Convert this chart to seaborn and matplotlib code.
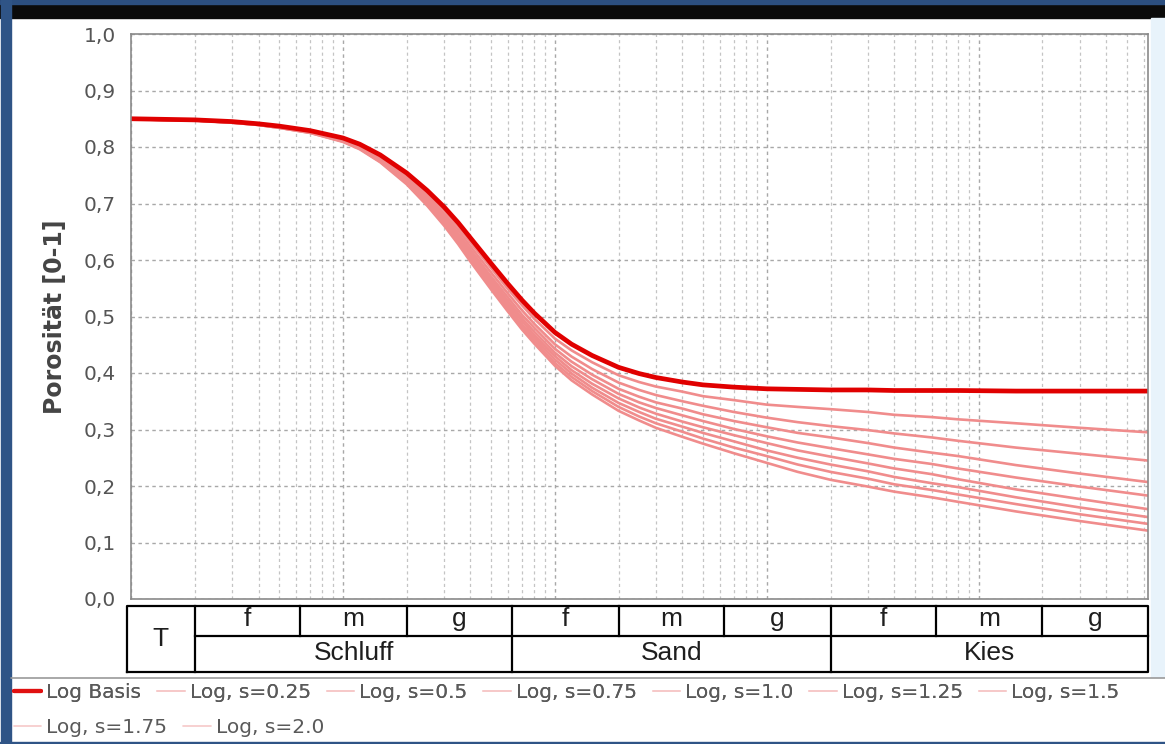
import numpy as np
import pandas as pd
import matplotlib
matplotlib.use("Agg")
import matplotlib.pyplot as plt
from matplotlib.patches import Rectangle
from matplotlib.lines import Line2D
from matplotlib.ticker import LogLocator, NullFormatter
import seaborn as sns

# grain diameter [mm]
diameter = [0.001, 0.002, 0.003, 0.004, 0.005, 0.007, 0.01, 0.012, 0.015, 0.02, 0.025, 0.03,
            0.035, 0.04, 0.05, 0.06, 0.07, 0.08, 0.1, 0.12, 0.15, 0.2, 0.25, 0.3, 0.4, 0.5,
            0.7, 1, 1.4, 2, 3, 4, 6, 8, 15, 30, 63]

# porosity curves
log_basis = [0.850, 0.848, 0.845, 0.841, 0.837, 0.829, 0.816, 0.805, 0.786, 0.754, 0.723, 0.694,
             0.666, 0.639, 0.594, 0.558, 0.529, 0.506, 0.472, 0.451, 0.431, 0.410, 0.399, 0.392,
             0.384, 0.379, 0.375, 0.372, 0.371, 0.370, 0.370, 0.369, 0.369, 0.369, 0.368, 0.368,
             0.368]
log_s025 = [0.850, 0.848, 0.845, 0.841, 0.836, 0.828, 0.815, 0.803, 0.784, 0.750, 0.718, 0.688,
            0.659, 0.631, 0.586, 0.549, 0.520, 0.496, 0.461, 0.440, 0.419, 0.396, 0.384, 0.376,
            0.367, 0.359, 0.352, 0.344, 0.340, 0.336, 0.331, 0.326, 0.322, 0.318, 0.311, 0.303,
            0.295]
log_s050 = [0.850, 0.848, 0.844, 0.840, 0.836, 0.828, 0.814, 0.802, 0.781, 0.747, 0.714, 0.682,
            0.653, 0.624, 0.578, 0.541, 0.511, 0.487, 0.451, 0.429, 0.407, 0.383, 0.370, 0.361,
            0.350, 0.342, 0.331, 0.321, 0.313, 0.306, 0.299, 0.293, 0.286, 0.280, 0.268, 0.257,
            0.245]
log_s075 = [0.850, 0.848, 0.844, 0.840, 0.835, 0.827, 0.813, 0.801, 0.780, 0.744, 0.710, 0.678,
            0.647, 0.618, 0.571, 0.534, 0.503, 0.480, 0.443, 0.420, 0.397, 0.372, 0.358, 0.348,
            0.337, 0.327, 0.315, 0.304, 0.294, 0.286, 0.276, 0.268, 0.259, 0.253, 0.237, 0.222,
            0.207]
log_s100 = [0.849, 0.847, 0.844, 0.840, 0.835, 0.827, 0.812, 0.799, 0.778, 0.742, 0.707, 0.674,
            0.643, 0.613, 0.566, 0.528, 0.497, 0.473, 0.436, 0.412, 0.389, 0.363, 0.348, 0.338,
            0.325, 0.315, 0.301, 0.288, 0.277, 0.267, 0.256, 0.248, 0.239, 0.231, 0.215, 0.199,
            0.183]
log_s125 = [0.849, 0.847, 0.844, 0.840, 0.835, 0.826, 0.811, 0.799, 0.777, 0.740, 0.704, 0.670,
            0.639, 0.609, 0.561, 0.523, 0.492, 0.467, 0.430, 0.405, 0.381, 0.355, 0.339, 0.328,
            0.314, 0.304, 0.290, 0.276, 0.263, 0.252, 0.240, 0.231, 0.221, 0.212, 0.194, 0.177,
            0.159]
log_s150 = [0.849, 0.847, 0.843, 0.839, 0.834, 0.826, 0.810, 0.798, 0.775, 0.738, 0.701, 0.667,
            0.635, 0.605, 0.556, 0.518, 0.486, 0.462, 0.424, 0.399, 0.374, 0.347, 0.331, 0.319,
            0.305, 0.294, 0.279, 0.263, 0.250, 0.238, 0.226, 0.216, 0.205, 0.198, 0.180, 0.162,
            0.145]
log_s175 = [0.849, 0.847, 0.843, 0.839, 0.834, 0.825, 0.810, 0.797, 0.774, 0.736, 0.698, 0.664,
            0.631, 0.601, 0.552, 0.513, 0.482, 0.457, 0.418, 0.393, 0.368, 0.340, 0.323, 0.311,
            0.296, 0.284, 0.268, 0.253, 0.238, 0.225, 0.213, 0.203, 0.193, 0.185, 0.168, 0.150,
            0.133]
log_s200 = [0.849, 0.847, 0.843, 0.839, 0.834, 0.825, 0.809, 0.796, 0.773, 0.734, 0.696, 0.661,
            0.628, 0.597, 0.548, 0.509, 0.477, 0.452, 0.413, 0.387, 0.362, 0.333, 0.316, 0.303,
            0.287, 0.275, 0.258, 0.241, 0.225, 0.211, 0.199, 0.190, 0.180, 0.172, 0.155, 0.138,
            0.121]

series_names = ["Log Basis", "Log, s=0.25", "Log, s=0.5", "Log, s=0.75", "Log, s=1.0",
                "Log, s=1.25", "Log, s=1.5", "Log, s=1.75", "Log, s=2.0"]
series_values = [log_basis, log_s025, log_s050, log_s075, log_s100,
                 log_s125, log_s150, log_s175, log_s200]

# y axis
yticks = [0.0, 0.1, 0.2, 0.3, 0.4, 0.5, 0.6, 0.7, 0.8, 0.9, 1.0]
yticklabels = ["0,0", "0,1", "0,2", "0,3", "0,4", "0,5", "0,6", "0,7", "0,8", "0,9", "1,0"]

# grain-size classification table (DIN 4022)
clay_label = "T"
class_bounds = [0.002, 0.063, 2, 63]
class_labels = ["Schluff", "Sand", "Kies"]
sub_bounds = [0.002, 0.0063, 0.02, 0.063, 0.2, 0.63, 2, 6.3, 20, 63]
sub_labels = ["f", "m", "g", "f", "m", "g", "f", "m", "g"]

df = pd.DataFrame({
    "d": np.tile(diameter, len(series_names)),
    "n": np.concatenate(series_values),
    "series": np.repeat(series_names, len(diameter)),
})

sns.set_style("white")
plt.rcParams["font.family"] = ["DejaVu Sans"]

W, H = 1165, 744
fig = plt.figure(figsize=(W / 100, H / 100), dpi=100)
fig.patch.set_facecolor("white")

def fx(px):
    return px / W

def fy(py):
    return 1 - py / H

# window frame
fig.patches.append(Rectangle((0, fy(18)), 1, 18 / H, transform=fig.transFigure,
                             color="#0b0b0b", zorder=0))
fig.patches.append(Rectangle((0, fy(4)), 1, 4 / H, transform=fig.transFigure,
                             color="#2c4f80", zorder=0))
fig.patches.append(Rectangle((fx(1), 0), 10 / W, 1, transform=fig.transFigure,
                             color="#2f5486", zorder=0))
fig.patches.append(Rectangle((fx(1151), fy(677)), 14 / W, (677 - 18) / H,
                             transform=fig.transFigure, color="#e8f3fb", zorder=0))
fig.add_artist(Line2D([fx(11), 1], [fy(677.5), fy(677.5)], transform=fig.transFigure,
                      color="#9a9a9a", lw=1.2))
fig.patches.append(Rectangle((0, 0), 1, 2 / H, transform=fig.transFigure,
                             color="#2f5486", zorder=0))

# main axes
left_px, right_px, top_px, bot_px = 131, 1148, 34, 599
ax = fig.add_axes([fx(left_px), fy(bot_px), fx(right_px - left_px), (bot_px - top_px) / H])
ax.set_xscale("log")

pale = "#f08c8c"
for name in series_names[1:]:
    sub = df[df["series"] == name]
    sns.lineplot(data=sub, x="d", y="n", ax=ax, color=pale, lw=1.9,
                 estimator=None, sort=True, legend=False)
sub = df[df["series"] == series_names[0]]
sns.lineplot(data=sub, x="d", y="n", ax=ax, color="#e00000", lw=3.4,
             estimator=None, sort=True, legend=False)

xmin, xmax = diameter[0], diameter[-1]
ax.set_xlim(xmin, xmax)
ax.set_ylim(0, 1)
ax.set_yticks(yticks)
ax.set_yticklabels(yticklabels)
ax.xaxis.set_major_locator(LogLocator(base=10, numticks=20))
ax.xaxis.set_minor_locator(LogLocator(base=10, subs=np.arange(2, 10), numticks=50))
ax.xaxis.set_major_formatter(NullFormatter())
ax.xaxis.set_minor_formatter(NullFormatter())
ax.tick_params(axis="x", which="both", length=0)
ax.tick_params(axis="y", which="major", length=5, color="#888888", width=1,
               labelsize=14.5, labelcolor="#555555", pad=6)
ax.grid(which="major", axis="both", ls=(0, (2.5, 2.5)), color="#a8a8a8", lw=1.0)
ax.grid(which="minor", axis="x", ls=(0, (2.5, 2.5)), color="#c4c4c4", lw=0.9)
ax.set_xlabel("")
ax.set_ylabel("Porosität [0-1]", fontsize=17, fontweight="bold", color="#444444", labelpad=12)
for sp in ax.spines.values():
    sp.set_color("#8a8a8a")
    sp.set_linewidth(1.2)

# classification table below the plot
tab_left_px, tab_top_px, tab_bot_px = 127, 606, 672
tax = fig.add_axes([fx(tab_left_px), fy(tab_bot_px), fx(right_px - tab_left_px),
                    (tab_bot_px - tab_top_px) / H])
tax.set_xscale("log")
px_per_dec = (right_px - left_px) / np.log10(xmax / xmin)
tab_lo = xmin * 10 ** (-(left_px - tab_left_px) / px_per_dec)
tax.set_xlim(tab_lo, xmax)
tax.set_ylim(0, 1)
tax.axis("off")
split = (tab_bot_px - 636) / (tab_bot_px - tab_top_px)
lk = dict(color="black", lw=1.6, solid_capstyle="projecting", clip_on=False)
tax.plot([tab_lo, xmax, xmax, tab_lo, tab_lo], [0, 0, 1, 1, 0], **lk)
tax.plot([sub_bounds[0], xmax], [split, split], **lk)
for b in sub_bounds[:-1]:
    y0 = 0 if b in class_bounds else split
    tax.plot([b, b], [y0, 1], **lk)
tf = dict(fontsize=19, color="#1e1e1e", ha="center", va="center",
          family=["Liberation Sans", "DejaVu Sans"])
tax.text(np.sqrt(tab_lo * sub_bounds[0]), 0.5, clay_label, **tf)
for a, b, lab in zip(sub_bounds[:-1], sub_bounds[1:], sub_labels):
    tax.text(np.sqrt(a * b), (1 + split) / 2 + 0.03, lab, **tf)
for a, b, lab in zip(class_bounds[:-1], class_bounds[1:], class_labels):
    tax.text(np.sqrt(a * b), split / 2 + 0.02, lab, **tf)

# legend, two flowing rows
handles = [Line2D([], [], color="#e01010", lw=3)]
handles += [Line2D([], [], color="#f6c8c8", lw=1.2) for _ in series_names[1:]]
leg_kw = dict(loc="upper left", frameon=False, fontsize=14.5, labelcolor="#5a5a5a",
              handlelength=1.35, handletextpad=0.25, columnspacing=0.8,
              borderaxespad=0, borderpad=0.2)
leg1 = fig.legend(handles[:7], series_names[:7], ncol=7,
                  bbox_to_anchor=(fx(10), fy(679)), **leg_kw)
fig.add_artist(leg1)
fig.legend(handles[7:], series_names[7:], ncol=2,
           bbox_to_anchor=(fx(10), fy(714)), **leg_kw)

fig.savefig("out.png", dpi=100, facecolor=fig.get_facecolor())
